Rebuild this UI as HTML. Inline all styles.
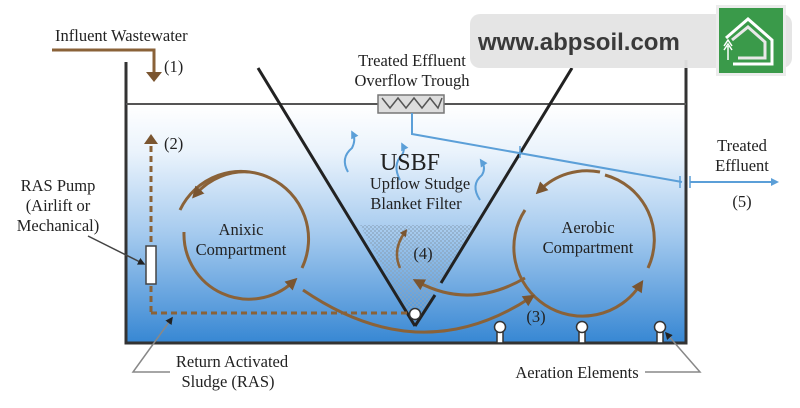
<!DOCTYPE html>
<html><head><meta charset="utf-8"><style>
html,body{margin:0;padding:0;background:#fff;}
svg{display:block;}
text{font-family:"Liberation Serif",serif;fill:#222;}
</style></head><body>
<svg width="800" height="408" viewBox="0 0 800 408" xmlns="http://www.w3.org/2000/svg">
<defs>
<linearGradient id="w" x1="0" y1="0" x2="0" y2="1">
<stop offset="0" stop-color="#ffffff"/>
<stop offset="0.2" stop-color="#eaf3fc"/>
<stop offset="0.55" stop-color="#a3c9ee"/>
<stop offset="1" stop-color="#3787d3"/>
</linearGradient>
<pattern id="h" width="4" height="4" patternUnits="userSpaceOnUse">
<rect width="2" height="2" fill="#8aa3bb" opacity="0.6"/><rect x="2" y="2" width="2" height="2" fill="#8aa3bb" opacity="0.6"/>
</pattern>
<marker id="ab" viewBox="0 0 10 10" refX="5" refY="5" markerWidth="4" markerHeight="4" orient="auto"><path d="M0,0L10,5L0,10z" fill="#7a5530"/></marker>
<marker id="ab2" viewBox="0 0 10 10" refX="5" refY="5" markerWidth="3" markerHeight="3" orient="auto"><path d="M0,0L10,5L0,10z" fill="#7a5530"/></marker>
<marker id="bl" viewBox="0 0 10 10" refX="5" refY="5" markerWidth="4" markerHeight="4" orient="auto"><path d="M0,0L10,5L0,10z" fill="#5b9fd8"/></marker>
<marker id="gr" viewBox="0 0 10 10" refX="8" refY="5" markerWidth="5" markerHeight="5" orient="auto"><path d="M0,0L10,5L0,10z" fill="#222"/></marker>
</defs>
<rect x="126" y="105" width="560" height="238" fill="url(#w)"/>
<polygon points="360,225 473,225 415,326" fill="url(#h)"/>
<path d="M126,62 V343 H686 V60" fill="none" stroke="#333" stroke-width="3"/>
<line x1="126" y1="104" x2="686" y2="104" stroke="#555" stroke-width="2"/>
<line x1="258" y1="68" x2="415" y2="326" stroke="#222" stroke-width="3"/>
<line x1="572" y1="68" x2="441" y2="283" stroke="#222" stroke-width="3"/>
<line x1="415" y1="326" x2="435" y2="295" stroke="#222" stroke-width="3"/>
<path d="M52,50 H154 V74" fill="none" stroke="#8a6238" stroke-width="3"/>
<path d="M146,72 L162,72 L154,82z" fill="#7a5530"/>
<path d="M151,312 V142" fill="none" stroke="#8a6238" stroke-width="3" stroke-dasharray="6,4"/>
<path d="M144,144 L158,144 L151,134z" fill="#7a5530"/>
<path d="M151,313 H408" fill="none" stroke="#8a6238" stroke-width="3" stroke-dasharray="6,4"/>
<rect x="146" y="246" width="10" height="38" fill="#fff" stroke="#444" stroke-width="1.5"/>
<path d="M302,268 A65,65 0 1 0 180,210" fill="none" stroke="#8a6238" stroke-width="3"/>
<path d="M250,172 A65,65 0 0 0 196,194" fill="none" stroke="#8a6238" stroke-width="3" marker-end="url(#ab)"/>
<path d="M184,232 A65,65 0 0 0 293,282" fill="none" stroke="#8a6238" stroke-width="3" marker-end="url(#ab)"/>
<path d="M600,172 A67,67 0 0 0 540,190" fill="none" stroke="#8a6238" stroke-width="3" marker-end="url(#ab)"/>
<path d="M525,210 A67,67 0 0 0 640,285" fill="none" stroke="#8a6238" stroke-width="3" marker-end="url(#ab)"/>
<path d="M648,268 A67,67 0 0 0 605,175" fill="none" stroke="#8a6238" stroke-width="3"/>
<path d="M303,290 Q420,370 530,298" fill="none" stroke="#8a6238" stroke-width="3" marker-end="url(#ab)"/>
<path d="M525,278 Q470,310 418,282" fill="none" stroke="#8a6238" stroke-width="3" marker-end="url(#ab)"/>
<path d="M400,268 Q392,250 405,232" fill="none" stroke="#8a6238" stroke-width="2.5" marker-end="url(#ab2)"/>
<path d="M348,172 Q340,158 352,148 Q356,140 353,134" fill="none" stroke="#5b9fd8" stroke-width="2" marker-end="url(#bl)"/>
<path d="M480,200 Q470,185 482,175 Q486,168 482,162" fill="none" stroke="#5b9fd8" stroke-width="2" marker-end="url(#bl)"/>
<path d="M400,180 Q392,165 402,155 Q405,150 403,146" fill="none" stroke="#5b9fd8" stroke-width="2" marker-end="url(#bl)"/>
<rect x="378" y="95" width="66" height="18" fill="#ddd" stroke="#777" stroke-width="1.5"/>
<path d="M382,98 L390,108 L398,98 L406,108 L414,98 L422,108 L430,98 L438,108 L442,98" fill="none" stroke="#555" stroke-width="1.5"/>
<path d="M412,113 V134 L682,182" fill="none" stroke="#5b9fd8" stroke-width="2"/>
<line x1="690" y1="182" x2="775" y2="182" stroke="#5b9fd8" stroke-width="2" marker-end="url(#bl)"/>
<line x1="520" y1="146" x2="520" y2="158" stroke="#5b9fd8" stroke-width="1.5"/>
<line x1="680" y1="176" x2="680" y2="188" stroke="#5b9fd8" stroke-width="1.5"/>
<line x1="690" y1="176" x2="690" y2="188" stroke="#5b9fd8" stroke-width="1.5"/>
<g fill="#fff" stroke="#333" stroke-width="1.5">
<rect x="497" y="330" width="6" height="13"/><circle cx="500" cy="327" r="5.5"/>
<rect x="579" y="330" width="6" height="13"/><circle cx="582" cy="327" r="5.5"/>
<rect x="657" y="330" width="6" height="13"/><circle cx="660" cy="327" r="5.5"/>
<circle cx="415" cy="314" r="5.5"/>
</g>
<line x1="88" y1="236" x2="144" y2="264" stroke="#444" stroke-width="1.5" marker-end="url(#gr)"/>
<path d="M170,372 H133 L172,318" fill="none" stroke="#888" stroke-width="1.5" marker-end="url(#gr)"/>
<path d="M645,372 H700 L666,333" fill="none" stroke="#888" stroke-width="1.5" marker-end="url(#gr)"/>
<g font-size="16.5">
<text x="55" y="41">Influent Wastewater</text>
<text x="164" y="72">(1)</text>
<text x="164" y="149">(2)</text>
<text x="58" y="191" text-anchor="middle">RAS Pump</text>
<text x="58" y="211" text-anchor="middle">(Airlift or</text>
<text x="58" y="231" text-anchor="middle">Mechanical)</text>
<text x="241" y="235" text-anchor="middle">Anixic</text>
<text x="241" y="255" text-anchor="middle">Compartment</text>
<text x="232" y="367" text-anchor="middle">Return Activated</text>
<text x="228" y="387" text-anchor="middle">Sludge (RAS)</text>
<text x="412" y="66" text-anchor="middle">Treated Effluent</text>
<text x="412" y="86" text-anchor="middle">Overflow Trough</text>
<text x="420" y="189" text-anchor="middle">Upflow Studge</text>
<text x="416" y="209" text-anchor="middle">Blanket Filter</text>
<text x="423" y="259" text-anchor="middle">(4)</text>
<text x="536" y="322" text-anchor="middle">(3)</text>
<text x="588" y="233" text-anchor="middle">Aerobic</text>
<text x="588" y="253" text-anchor="middle">Compartment</text>
<text x="742" y="151" text-anchor="middle">Treated</text>
<text x="742" y="171" text-anchor="middle">Effluent</text>
<text x="742" y="207" text-anchor="middle">(5)</text>
<text x="577" y="378" text-anchor="middle">Aeration Elements</text>
</g>
<text x="410" y="170" font-size="24" text-anchor="middle">USBF</text>
<rect x="470" y="14" width="322" height="54" rx="10" fill="#e4e4e4" opacity="0.95"/>
<text x="478" y="50" font-size="24" font-weight="bold" style="font-family:'Liberation Sans',sans-serif;fill:#3a3a3a">www.abpsoil.com</text>
<rect x="716" y="5" width="70" height="71" fill="#ececec"/>
<rect x="719" y="8" width="64" height="65" fill="#3a9a4a"/>
<path d="M726,38 L748,19 L772,40 V64 H733" fill="none" stroke="#fff" stroke-width="3"/>
<path d="M732,40 L748,27 L765,42 V58 H738" fill="none" stroke="#e8e8e8" stroke-width="3"/>
<path d="M724,46 L728,40 L732,46 M724,50 L728,44 L732,50 M728,46 V60" stroke="#fff" stroke-width="1.5" fill="none"/>
</svg>
</body></html>
